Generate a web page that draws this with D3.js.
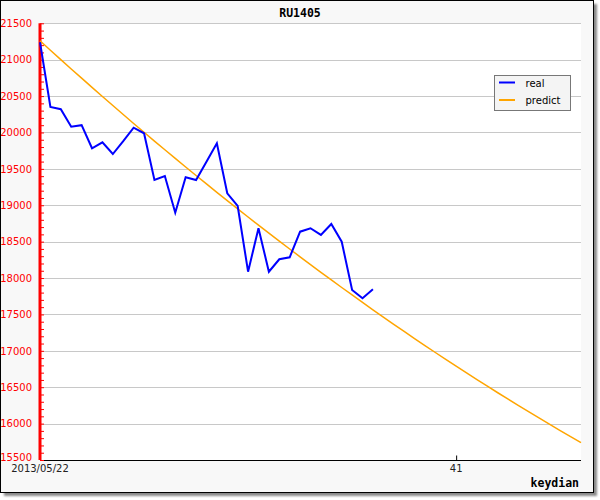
<!DOCTYPE html>
<html>
<head>
<meta charset="utf-8">
<script src="https://cdn.jsdelivr.net/npm/d3@7"></script>
<style>
  html, body { margin: 0; padding: 0; background: #ffffff; }
  svg { display: block; }
</style>
</head>
<body>
<svg id="chart" width="600" height="500"></svg>
<script>
// ---- data ----
const title = "RU1405";
const xAxisTitle = "keydian";
const seriesNames = ["real", "predict"];
const seriesColors = ["#0000ff", "#ffa500"];
const realValues = [21240, 20350, 20320, 20080, 20100, 19783, 19865, 19704, 19880, 20066,
  19989, 19347, 19402, 18898, 19384, 19347, 19599, 19851, 19164, 18990,
  18087, 18684, 18087, 18258, 18285, 18637, 18684, 18592, 18743, 18499,
  17836, 17722, 17845];
const predictValues = [21260, 21130, 21001, 20873, 20746, 20620, 20495, 20370, 20247, 20124,
  20003, 19882, 19763, 19644, 19526, 19409, 19293, 19178, 19064, 18951,
  18839, 18727, 18617, 18508, 18399, 18292, 18185, 18079, 17974, 17870,
  17768, 17666, 17564, 17464, 17365, 17267, 17169, 17073, 16977, 16883,
  16789, 16697, 16605, 16514, 16424, 16335, 16247, 16160, 16074, 15988,
  15904, 15821, 15738];
const xTickValues = [1, 41];
const xTickLabels = ["2013/05/22", "41"];
const yTicks = [15500, 16000, 16500, 17000, 17500, 18000, 18500, 19000, 19500, 20000, 20500, 21000, 21500];
const yDomain = [15500, 21500];
const xDomain = [1, 53];

// ---- layout ----
const svg = d3.select("#chart");
const plot = { left: 40, right: 581, top: 23.3, bottom: 460 };

// shadow + frame
const defs = svg.append("defs");
const f = defs.append("filter").attr("id", "blur").attr("x", "-5%").attr("y", "-5%").attr("width", "110%").attr("height", "110%");
f.append("feGaussianBlur").attr("stdDeviation", 1.2);
svg.append("rect").attr("x", 4).attr("y", 4).attr("width", 593).attr("height", 492)
  .attr("fill", "#8a8a8a").attr("filter", "url(#blur)");
svg.append("rect").attr("x", 0.5).attr("y", 0.5).attr("width", 593).attr("height", 492)
  .attr("fill", "#f8f8f8").attr("stroke", "#000").attr("stroke-width", 1);

// plot background
svg.append("rect").attr("x", plot.left).attr("y", plot.top)
  .attr("width", plot.right - plot.left).attr("height", plot.bottom - plot.top)
  .attr("fill", "#ffffff");

const x = d3.scaleLinear().domain(xDomain).range([plot.left, plot.right]);
const y = d3.scaleLinear().domain(yDomain).range([plot.bottom, plot.top]);

// gridlines
svg.append("g").selectAll("line").data(yTicks.filter(v => v !== yDomain[0])).join("line")
  .attr("x1", plot.left + 1).attr("x2", plot.right)
  .attr("y1", d => Math.round(y(d)) + 0.5).attr("y2", d => Math.round(y(d)) + 0.5)
  .attr("stroke", "#c8c8c8").attr("stroke-width", 1);

// x axis
const xAxis = d3.axisTop(x).tickValues(xTickValues).tickSize(5).tickFormat(() => "");
const gx = svg.append("g").attr("transform", `translate(0,${plot.bottom + 0.5})`).call(xAxis);
gx.select(".domain").attr("stroke", "#000").attr("d", `M${plot.left},0H${plot.right}`);
gx.selectAll(".tick line").attr("stroke", "#000").attr("y1", 0).attr("y2", d => d === 1 ? 0 : -5);
svg.append("g").selectAll("text").data(xTickValues).join("text")
  .attr("x", d => x(d)).attr("y", 472)
  .attr("text-anchor", "middle")
  .attr("font-family", "DejaVu Sans, sans-serif").attr("font-size", 10)
  .attr("fill", "#222")
  .text((d, i) => xTickLabels[i]);

// y axis (red) with minor ticks
const minorTicks = d3.range(yDomain[0], yDomain[1] + 1, 100);
const gyMinor = svg.append("g").attr("transform", `translate(${plot.left},0)`)
  .call(d3.axisRight(y).tickValues(minorTicks).tickSize(4).tickFormat(""));
gyMinor.select(".domain").remove();
gyMinor.selectAll(".tick line").attr("stroke", "#ff0000").attr("stroke-width", 1);
const gy = svg.append("g").attr("transform", `translate(${plot.left},0)`)
  .call(d3.axisLeft(y).tickValues(yTicks).tickSize(0).tickPadding(8).tickFormat(d3.format("d")));
gy.select(".domain").attr("stroke", "#ff0000").attr("stroke-width", 3)
  .attr("d", `M0,${plot.top}V${plot.bottom}`);
gy.selectAll(".tick text").attr("fill", "#ff0000")
  .attr("font-family", "DejaVu Sans, sans-serif").attr("font-size", 10)
  .attr("dy", d => d === yDomain[0] ? "0.0em" : "0.32em");

// lines
const line = d3.line().x((d, i) => x(i + 1)).y(d => y(d));
svg.append("path").datum(predictValues).attr("d", line)
  .attr("fill", "none").attr("stroke", seriesColors[1]).attr("stroke-width", 1.5);
svg.append("path").datum(realValues).attr("d", line)
  .attr("fill", "none").attr("stroke", seriesColors[0]).attr("stroke-width", 2)
  .attr("stroke-linejoin", "miter");

// title
svg.append("text").attr("x", 300).attr("y", 17).attr("text-anchor", "middle")
  .attr("font-family", "DejaVu Sans Mono, monospace").attr("font-weight", "bold")
  .attr("font-size", 11.5).attr("fill", "#000").text(title);

// x-axis title
svg.append("text").attr("x", 579).attr("y", 487).attr("text-anchor", "end")
  .attr("font-family", "DejaVu Sans Mono, monospace").attr("font-weight", "bold")
  .attr("font-size", 11.5).attr("fill", "#000").text(xAxisTitle);

// legend
const lg = svg.append("g");
lg.append("rect").attr("x", 494.5).attr("y", 75.5).attr("width", 76).attr("height", 35)
  .attr("fill", "#f4f4f4").attr("stroke", "#777").attr("stroke-width", 1);
const items = lg.selectAll("g.item").data(seriesNames).join("g").attr("class", "item")
  .attr("transform", (d, i) => `translate(0,${82.5 + i * 17.5})`);
items.append("line").attr("x1", 499).attr("x2", 515).attr("y1", 0).attr("y2", 0)
  .attr("stroke", (d, i) => seriesColors[i]).attr("stroke-width", 2);
items.append("text").attr("x", 525.5).attr("y", 4)
  .attr("font-family", "DejaVu Sans, sans-serif").attr("font-size", 10)
  .attr("fill", "#000").text(d => d);
</script>
</body>
</html>
